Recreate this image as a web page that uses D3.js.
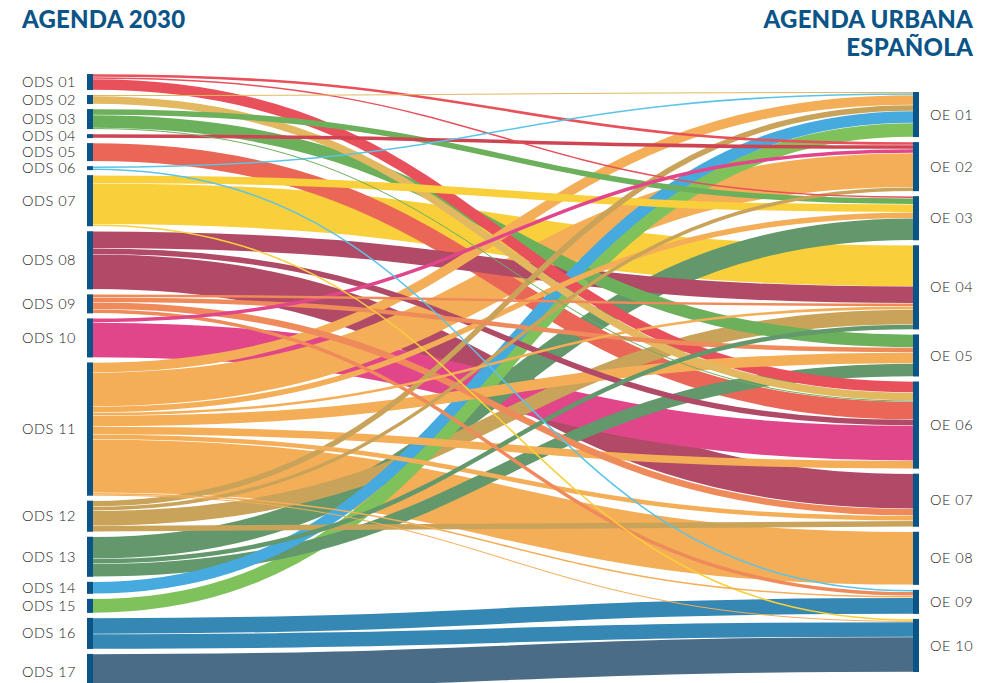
<!DOCTYPE html>
<html>
<head>
<meta charset="utf-8">
<script src="https://cdn.jsdelivr.net/npm/d3@7"></script>
<style>
  body { margin: 0; background: #fff; }
  text { font-family: Lato, "Noto Sans", sans-serif; }
</style>
</head>
<body>
<script>
const sources = ['ODS 01', 'ODS 02', 'ODS 03', 'ODS 04', 'ODS 05', 'ODS 06', 'ODS 07', 'ODS 08', 'ODS 09',
    'ODS 10', 'ODS 11', 'ODS 12', 'ODS 13', 'ODS 14', 'ODS 15', 'ODS 16', 'ODS 17'];
const targets = ['OE 01', 'OE 02', 'OE 03', 'OE 04', 'OE 05', 'OE 06', 'OE 07', 'OE 08', 'OE 09', 'OE 10'];
const colors = ['#e8505b', '#e2b861', '#6cb05c', '#cf4452', '#ea6757', '#5cc4e6', '#f9cf3c', '#b04a67', '#ef8a5b',
    '#e2468a', '#f4ae58', '#c9a35a', '#63976c', '#46aade', '#7fc25b', '#3587b4', '#4a6c86'];

// rows: ODS, columns: OE 01 .. OE 10
const flows = [
    [0, 3, 2, 0, 0, 11, 0, 0, 0, 0],
    [1, 0, 0, 0, 0, 8, 0, 0, 0, 0],
    [0, 0, 6, 0, 13, 1, 0, 0, 0, 0],
    [0, 4, 0, 0, 0, 0, 0, 0, 0, 0],
    [0, 0, 0, 0, 0, 18, 0, 0, 0, 0],
    [2, 0, 0, 0, 0, 0, 0, 0, 2, 0],
    [0, 0, 8, 41, 0, 0, 0, 0, 0, 2],
    [0, 0, 0, 17, 0, 6, 35, 0, 0, 0],
    [0, 0, 0, 3, 5, 0, 7, 0, 4, 0],
    [0, 4, 0, 0, 0, 35, 0, 0, 0, 0],
    [10, 34, 6, 3, 11, 8, 5, 53, 2, 1],
    [6, 4, 0, 15, 0, 0, 6, 0, 0, 0],
    [0, 0, 22, 5, 13, 0, 0, 0, 0, 0],
    [12, 0, 0, 0, 0, 0, 0, 0, 0, 0],
    [14, 0, 0, 0, 0, 0, 0, 0, 0, 0],
    [0, 0, 0, 0, 0, 0, 0, 0, 16, 15],
    [0, 0, 0, 0, 0, 0, 0, 0, 0, 35]
];

const W = 996, H = 683,
    pad = 5,
    leftTop = 74, rightTop = 92, rightBottom = 672,
    barW = 6, leftX = 87, rightX = 913,
    blue = '#0b5487';

const svg = d3.select('body').append('svg').attr('width', W).attr('height', H);

const srcTotals = flows.map(r => d3.sum(r)),
    tgtTotals = targets.map((t, j) => d3.sum(flows, r => r[j])),
    total = d3.sum(tgtTotals);

const thick = d3.scaleLinear()
    .domain([0, total])
    .range([0, rightBottom - rightTop - pad * (targets.length - 1)]);

// node boxes
function stack (totals, top) {
    let y = top;
    return totals.map(v => {
        const n = { y0: y, y1: y + thick(v) };
        y = n.y1 + pad;
        return n;
    });
}
const leftNodes = stack(srcTotals, leftTop),
    rightNodes = stack(tgtTotals, rightTop);

// links, stacked at source by target order and at target by source order
let links = [];
flows.forEach((row, i) => row.forEach((v, j) => {
    if (v > 0) links.push({ i, j, v, w: thick(v) });
}));
const sOff = leftNodes.map(n => n.y0), tOff = rightNodes.map(n => n.y0);
links.slice().sort((a, b) => a.i - b.i || a.j - b.j).forEach(l => {
    l.sy = sOff[l.i] + l.w / 2; sOff[l.i] += l.w;
});
links.slice().sort((a, b) => a.j - b.j || a.i - b.i).forEach(l => {
    l.ty = tOff[l.j] + l.w / 2; tOff[l.j] += l.w;
});

const linkGen = d3.linkHorizontal();

svg.append('g')
    .attr('fill', 'none')
    .selectAll('path')
    .data(links.sort((a, b) => b.v - a.v))
    .enter().append('path')
    .attr('d', d => linkGen({ source: [leftX + barW, d.sy], target: [rightX, d.ty] }))
    .attr('stroke', d => colors[d.i])
    .attr('stroke-width', d => Math.max(1, d.w - 0.5));

// bars
svg.append('g').selectAll('rect')
    .data(leftNodes).enter().append('rect')
    .attr('x', leftX).attr('y', d => d.y0)
    .attr('width', barW).attr('height', d => d.y1 - d.y0)
    .attr('fill', blue);
svg.append('g').selectAll('rect')
    .data(rightNodes).enter().append('rect')
    .attr('x', rightX).attr('y', d => d.y0)
    .attr('width', barW).attr('height', d => d.y1 - d.y0)
    .attr('fill', blue);

// labels
svg.append('g').selectAll('text')
    .data(leftNodes).enter().append('text')
    .attr('x', 22).attr('y', d => (d.y0 + d.y1) / 2)
    .attr('dy', '0.35em')
    .attr('font-size', 14.5).attr('font-weight', 300).attr('letter-spacing', 0.5).attr('fill', '#222')
    .text((d, i) => sources[i]);
svg.append('g').selectAll('text')
    .data(rightNodes).enter().append('text')
    .attr('x', 930).attr('y', d => (d.y0 + d.y1) / 2)
    .attr('dy', '0.35em')
    .attr('font-size', 14.5).attr('font-weight', 300).attr('letter-spacing', 0.5).attr('fill', '#222')
    .text((d, i) => targets[i]);

// titles
const title = (x, y, anchor, s) => svg.append('text')
    .attr('x', x).attr('y', y).attr('text-anchor', anchor)
    .attr('font-size', 24).attr('font-weight', 900).attr('letter-spacing', 0.2)
    .attr('fill', blue)
    .text(s);
title(22, 28, 'start', 'AGENDA 2030');
title(973, 28, 'end', 'AGENDA URBANA');
title(973, 56, 'end', 'ESPAÑOLA');
</script>
</body>
</html>
